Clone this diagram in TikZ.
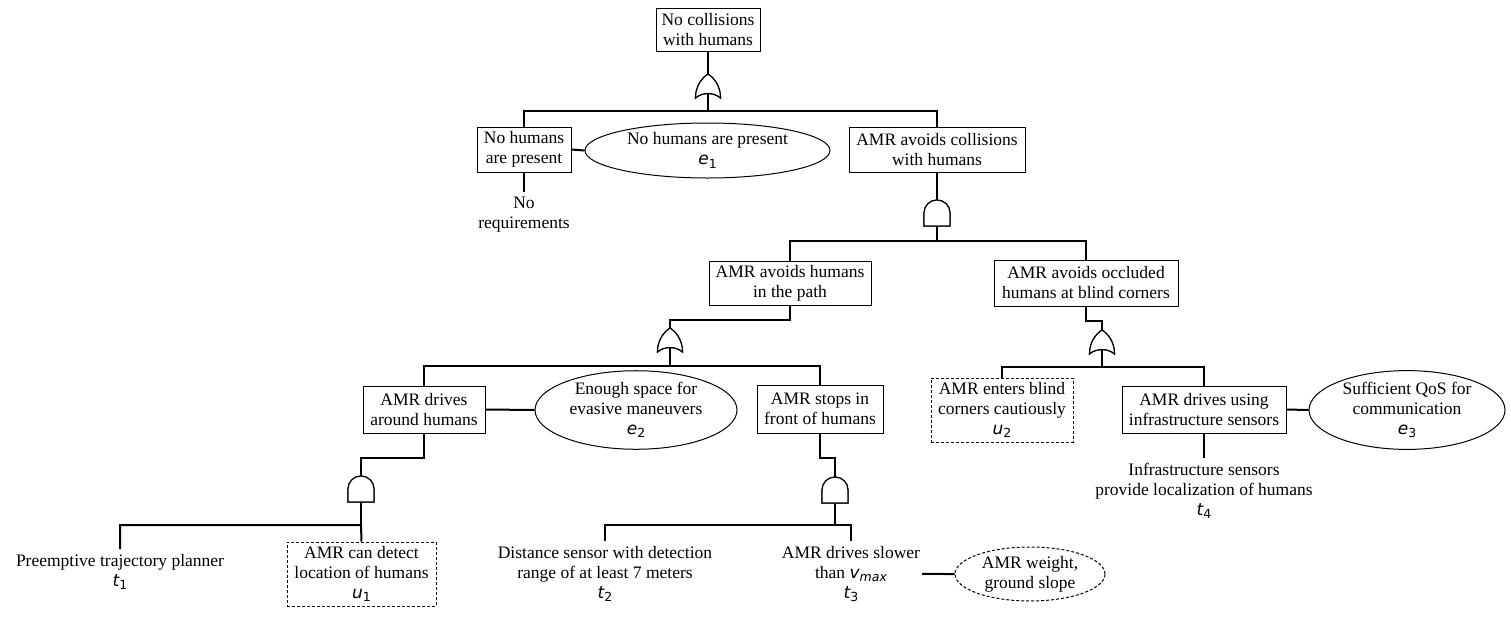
\documentclass[tikz,border=0pt]{standalone}
\usepackage{fontspec}
\setmainfont{Liberation Serif}
\newfontfamily\serfont{Liberation Serif}
\newfontfamily\lblfont{DejaVu Sans}
\usetikzlibrary{shapes.geometric}
\newcommand\lbl[2]{{\lblfont\fontsize{17}{20}\selectfont\itshape #1}\raisebox{-0.4ex}{\lblfont\fontsize{12.5}{12.5}\selectfont #2}}
\tikzset{
  gate/.style={line width=1.2pt, fill=white, draw=black},
  orgate/.pic={
    \path[gate] (-12.5,-12) .. controls (-12.5,0) and (-6,8) .. (0,12)
      .. controls (6,8) and (12.5,0) .. (12.5,-12)
      .. controls (6,-6) and (-6,-6) .. (-12.5,-12) -- cycle;
    \coordinate (-top) at (0,12);
    \coordinate (-bot) at (0,-7.5);
  },
  andgate/.pic={
    \path[gate] (-13,-13) -- (-13,0) arc[start angle=180,end angle=0,radius=13] -- (13,-13) -- cycle;
    \coordinate (-top) at (0,13);
    \coordinate (-bot) at (0,-13);
  }
}
\begin{document}
\begin{tikzpicture}[x=1pt,y=1pt,
  font=\serfont\fontsize{17.5}{20}\selectfont,
  box/.style={draw, line width=1pt, align=center, inner sep=0pt},
  dbox/.style={box, dash pattern=on 3pt off 2pt},
  ell/.style={ellipse, draw, line width=1pt, align=center, inner sep=0pt},
  dell/.style={ell, dash pattern=on 3pt off 2pt},
  txt/.style={align=center, inner xsep=2pt, inner ysep=5pt, anchor=north},
  conn/.style={line width=2pt}]
\useasboundingbox (0,0) rectangle (1511,-616);

% boxes
\node[box, minimum width=104pt, minimum height=43pt] (top) at (708,-29.5) {No collisions\\with humans};
\node[box, minimum width=94pt, minimum height=45pt] (nohum) at (524,-149.5) {No humans\\are present};
\node[box, minimum width=176pt, minimum height=45pt] (avoidcol) at (937,-149.5) {AMR avoids collisions\\with humans};
\node[box, minimum width=162pt, minimum height=44pt] (path) at (790,-283) {AMR avoids humans\\in the path};
\node[box, minimum width=184pt, minimum height=46pt] (occl) at (1086,-283) {AMR avoids occluded\\humans at blind corners};
\node[box, minimum width=122pt, minimum height=47pt] (around) at (424,-409.5) {AMR drives\\around humans};
\node[box, minimum width=126pt, minimum height=48pt] (stops) at (820,-409) {AMR stops in\\front of humans};
\node[dbox, minimum width=149pt, minimum height=64pt] (detect) at (361.5,-574) {AMR can detect\\location of humans\\\lbl{u}{1}};
\node[dbox, minimum width=142pt, minimum height=64pt] (blind) at (1002,-410) {AMR enters blind\\corners cautiously\\\lbl{u}{2}};
\node[box, minimum width=164pt, minimum height=47pt] (infra) at (1204,-409.5) {AMR drives using\\infrastructure sensors};

% ellipses
\node[ell, minimum width=245pt, minimum height=55pt] (e1) at (707.5,-150.5) {No humans are present\\\lbl{e}{1}};
\node[ell, minimum width=202pt, minimum height=77pt] (e2) at (636,-410) {Enough space for\\evasive maneuvers\\\lbl{e}{2}};
\node[ell, minimum width=196pt, minimum height=76pt] (e3) at (1407,-410) {Sufficient QoS for\\communication\\\lbl{e}{3}};
\node[dell, minimum width=150pt, minimum height=54pt] (weight) at (1030,-574) {AMR weight,\\ground slope};

% plain texts
\node[txt] (noreq) at (524,-192) {No\\requirements};
\node[txt] (t1) at (120,-549) {Preemptive trajectory planner\\\lbl{t}{1}};
\node[txt] (t2) at (605,-541) {Distance sensor with detection\\range of at least 7 meters\\\lbl{t}{2}};
\node[txt] (t3) at (851,-541) {AMR drives slower\\than \lbl{v}{\itshape max}\\\lbl{t}{3}};
\node[txt] (t4) at (1204,-458) {Infrastructure sensors\\provide localization of humans\\\lbl{t}{4}};

% bar coordinates
\coordinate (b1) at (708,-111);
\coordinate (b2) at (937,-241);
\coordinate (b3) at (670,-366);
\coordinate (b4) at (361,-525);
\coordinate (b5) at (835,-525);
\coordinate (b6) at (1102,-367);

% gate positions (coordinates only)
\path (708,-86) pic (g1) {orgate};
\path (937,-213) pic (g2) {andgate};
\path (670,-340) pic (g3) {orgate};
\path (361,-489) pic (g4) {andgate};
\path (835,-490) pic (g5) {andgate};
\path (1102,-342) pic (g6) {orgate};

% connectors
\draw[conn] (top.south) -- (g1-top);
\draw[conn] (g1-bot) -- (b1);
\draw[conn] (nohum.north) |- (b1) -| (avoidcol.north);
\draw[conn] (nohum.east) -- (e1.west);
\draw[conn] (nohum.south) -- (noreq.north);

\draw[conn] (avoidcol.south) -- (g2-top);
\draw[conn] (g2-bot) -- (b2);
\draw[conn] (path.north) |- (b2) -| (occl.north);

\draw[conn] (path.south) -- ++(0,-14) -| (g3-top);
\draw[conn] (g3-bot) -- (b3);
\draw[conn] (around.north) |- (b3) -| (stops.north);
\draw[conn] (around.east) -- (e2.west);

\draw[conn] (around.south) -- ++(0,-24) -| (g4-top);
\draw[conn] (g4-bot) -- (b4);
\draw[conn] (t1.north) |- (b4) -- (detect.north);

\draw[conn] (stops.south) -- ++(0,-24) -| (g5-top);
\draw[conn] (g5-bot) -- (b5);
\draw[conn] (t2.north) |- (b5) -| (t3.north);
\draw[conn] (t3.east) -- (weight.west);

\draw[conn] (occl.south) -- ++(0,-14) -| (g6-top);
\draw[conn] (g6-bot) -- (b6);
\draw[conn] (blind.north) |- (b6) -| (infra.north);
\draw[conn] (infra.east) -- (e3.west);
\draw[conn] (infra.south) -- (t4.north);

% gates drawn on top
\path (708,-86) pic (G1) {orgate};
\path (937,-213) pic (G2) {andgate};
\path (670,-340) pic (G3) {orgate};
\path (361,-489) pic (G4) {andgate};
\path (835,-490) pic (G5) {andgate};
\path (1102,-342) pic (G6) {orgate};
\end{tikzpicture}
\end{document}
